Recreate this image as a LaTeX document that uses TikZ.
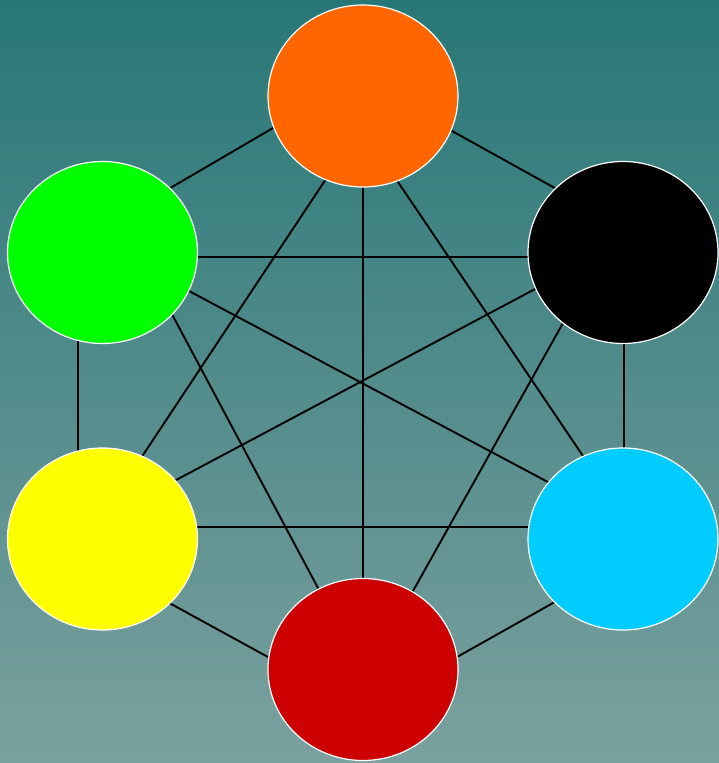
\documentclass[tikz,border=0pt]{standalone}
\usetikzlibrary{shapes.geometric,backgrounds,calc}
\definecolor{bgtop}{HTML}{287777}
\definecolor{bgbot}{HTML}{7BA19F}
\definecolor{corange}{HTML}{FF6600}
\definecolor{cgreen}{HTML}{00FF00}
\definecolor{cblack}{HTML}{000000}
\definecolor{cyellow}{HTML}{FFFF00}
\definecolor{ccyan}{HTML}{00CCFF}
\definecolor{cred}{HTML}{CC0000}
\tikzset{
  ball/.style={ellipse, draw=white, line width=1.2pt, minimum width=190pt, minimum height=182pt, inner sep=0pt, outer sep=0pt},
  link/.style={draw=black, line width=1.9pt}
}
\newcommand{\lnk}[2]{\draw[link] ($(#1)!-6pt!(#2)$) -- ($(#2)!-6pt!(#1)$);}
\begin{document}
\begin{tikzpicture}[x=1pt,y=-1pt]
\useasboundingbox (0,0) rectangle (719,763);
\node[ball, fill=corange] (o) at (363,96) {};
\node[ball, fill=cgreen]  (g) at (102.5,252.5) {};
\node[ball, fill=cblack]  (k) at (623,252.5) {};
\node[ball, fill=cyellow] (y) at (102.5,539) {};
\node[ball, fill=ccyan]   (c) at (623,539) {};
\node[ball, fill=cred]    (r) at (363,669.5) {};
% connector end points on each ball
\coordinate (og) at ($(o)+(-90,32)$);
\coordinate (ok) at ($(o)+(89,35)$);
\coordinate (oy) at ($(o)+(-39,86)$);
\coordinate (oc) at ($(o)+(35,86)$);
\coordinate (or) at ($(o)+(0,91)$);
\coordinate (go) at ($(g)+(69.5,-65.5)$);
\coordinate (gk) at ($(g)+(95.5,4.5)$);
\coordinate (gy) at ($(g)+(-24.5,91.5)$);
\coordinate (gc) at ($(g)+(86.5,38.5)$);
\coordinate (gr) at ($(g)+(71.5,65.5)$);
\coordinate (ko) at ($(k)+(-70,-65.5)$);
\coordinate (kg) at ($(k)+(-95,4.5)$);
\coordinate (ky) at ($(k)+(-86,35.5)$);
\coordinate (kr) at ($(k)+(-60,70.5)$);
\coordinate (kc) at ($(k)+(1,91.5)$);
\coordinate (yo) at ($(y)+(40.5,-84)$);
\coordinate (yg) at ($(y)+(-24.5,-91)$);
\coordinate (yk) at ($(y)+(75.5,-60)$);
\coordinate (yc) at ($(y)+(95.5,-12)$);
\coordinate (yr) at ($(y)+(70.5,66)$);
\coordinate (co) at ($(c)+(-42,-86)$);
\coordinate (cg) at ($(c)+(-77,-58)$);
\coordinate (ck) at ($(c)+(1,-91)$);
\coordinate (cy) at ($(c)+(-95,-12)$);
\coordinate (cr) at ($(c)+(-70,64)$);
\coordinate (ro) at ($(r)+(0,-91.5)$);
\coordinate (rg) at ($(r)+(-45,-81.5)$);
\coordinate (rk) at ($(r)+(50,-78.5)$);
\coordinate (ry) at ($(r)+(-95,-12.5)$);
\coordinate (rc) at ($(r)+(94,-12.5)$);
\begin{scope}[on background layer]
  \fill[top color=bgtop, bottom color=bgbot] (0,0) rectangle (719,763);
  \lnk{og}{go}
  \lnk{ok}{ko}
  \lnk{oy}{yo}
  \lnk{oc}{co}
  \lnk{or}{ro}
  \lnk{gk}{kg}
  \lnk{gy}{yg}
  \lnk{gc}{cg}
  \lnk{gr}{rg}
  \lnk{ky}{yk}
  \lnk{kr}{rk}
  \lnk{kc}{ck}
  \lnk{yc}{cy}
  \lnk{yr}{ry}
  \lnk{cr}{rc}
\end{scope}
\end{tikzpicture}
\end{document}
